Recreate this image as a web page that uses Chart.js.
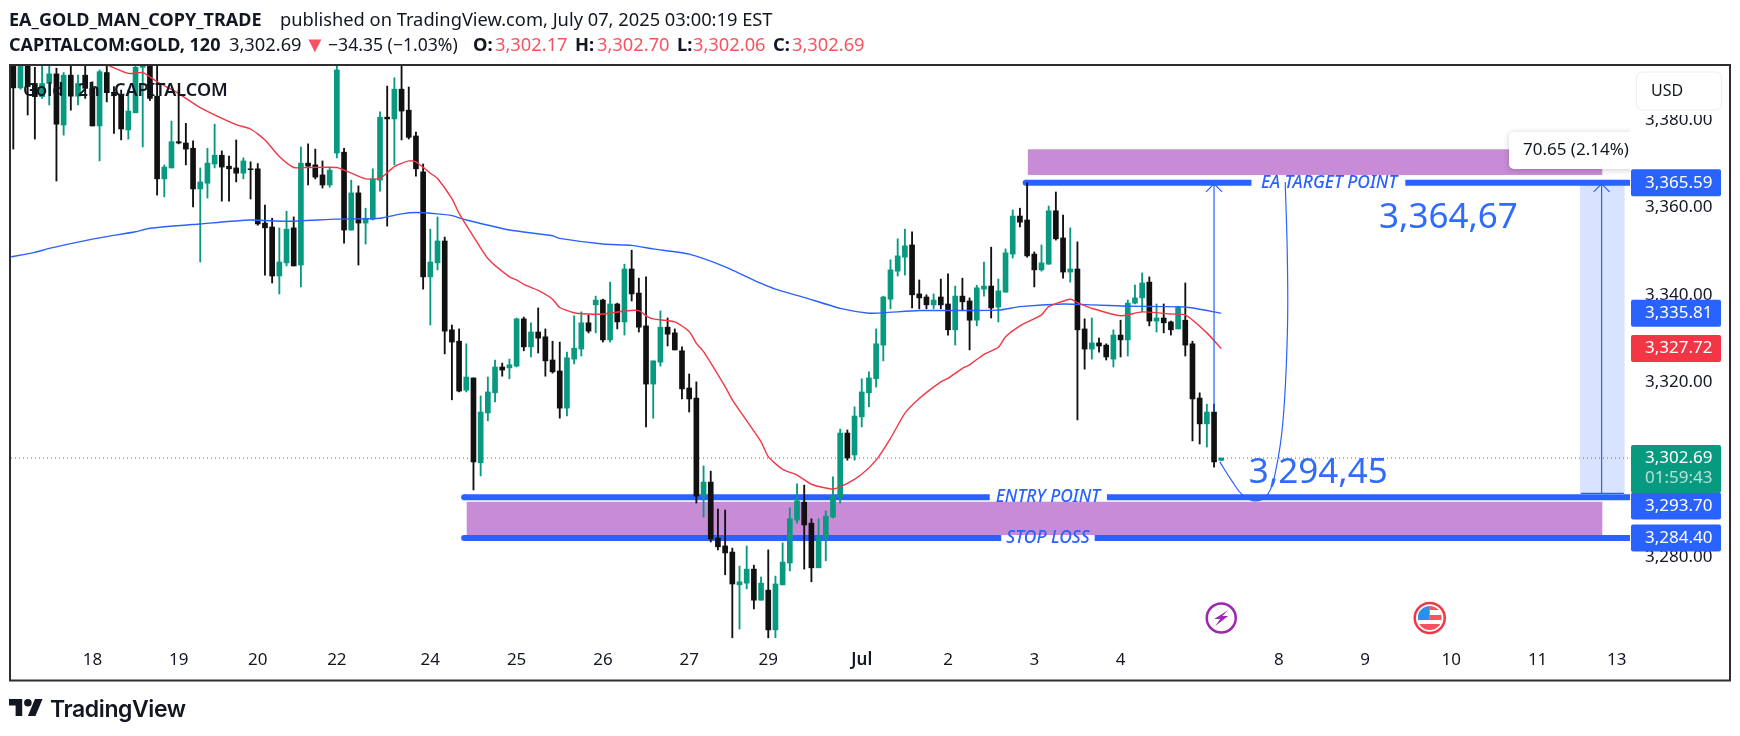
<!DOCTYPE html>
<html>
<head>
<meta charset="utf-8">
<title>Gold 2h</title>
<script src="https://cdn.jsdelivr.net/npm/chart.js@4"></script>
<style>
html, body { margin: 0; padding: 0; background: #fff; }
#wrap { position: relative; width: 1740px; height: 736px; overflow: hidden; }
canvas { position: absolute; left: 0; top: 0; }
.t { position: absolute; white-space: nowrap; font-family: "Noto Sans", sans-serif; font-size: 18.3px; line-height: 24px; color: #131722; }
.b { font-weight: 700; }
.r { color: #f7525f; }
</style>
</head>
<body>
<div id="wrap">
<canvas id="myChart" width="1740" height="736"></canvas>
<span class="t b" style="left:9px;top:7px;font-size:18px">EA_GOLD_MAN_COPY_TRADE</span>
<span class="t" style="left:280px;top:7px">published on TradingView.com, July 07, 2025 03:00:19 EST</span>
<span class="t b" style="left:9px;top:32px;font-size:18px">CAPITALCOM:GOLD, 120</span>
<span class="t" style="left:229px;top:32px">3,302.69</span>
<span class="t r" style="left:304px;top:31px;font-size:22px">▼</span>
<span class="t" style="left:328px;top:32px;font-size:17.6px">−34.35 (−1.03%)</span>
<span class="t b" style="left:473px;top:32px">O:</span><span class="t r" style="left:495px;top:32px">3,302.17</span>
<span class="t b" style="left:575px;top:32px">H:</span><span class="t r" style="left:597px;top:32px">3,302.70</span>
<span class="t b" style="left:677px;top:32px">L:</span><span class="t r" style="left:693px;top:32px">3,302.06</span>
<span class="t b" style="left:773px;top:32px">C:</span><span class="t r" style="left:792px;top:32px">3,302.69</span>
<svg style="position:absolute;left:9px;top:695px" width="34" height="25" viewBox="0 0 36 26"><path fill="#131722" d="M14 22H7V11H0V4h14v18zM28 22h-8l7.5-18h8L28 22z"/><circle fill="#131722" cx="20" cy="8" r="4"/></svg>
<span class="t" style="left:50px;top:694px;font-family:Inter,sans-serif;font-weight:600;font-size:23px;line-height:30px;letter-spacing:-0.4px">TradingView</span>
</div>
<script>
// candles, 2h bars
var openP = [3394,3387.3,3394,3388.3,3385.3,3388.3,3390.5,3378.8,3390.2,3385.4,
3390.2,3387.2,3378.6,3390.8,3386.3,3385.7,3377.7,3381.6,3392.0,3394,
3385.4,3366.5,3369.0,3375.0,3374.7,3373.5,3364.2,3365.5,3369.9,3371.9,
3369.4,3369.0,3367.8,3368.8,3368.8,3356.4,3355.5,3344.3,3347.3,3355.3,
3346.8,3370.1,3369.7,3367.4,3365.1,3372.4,3372.6,3354.8,3363.3,3356.4,
3357.3,3366.2,3380.6,3380.2,3387.0,3382.2,3376.3,3368.1,3344.1,3347.3,
3352.3,3332.0,3329.4,3318.2,3321.0,3301.6,3313.0,3317.6,3323.5,3323.3,
3323.7,3334.5,3328.1,3331.5,3330.4,3325.1,3322.6,3314.1,3325.3,3327.6,
3333.6,3337.7,3338.8,3329.7,3337.9,3333.8,3345.9,3340.4,3332.9,3319.6,
3324.6,3332.6,3331.3,3327.2,3318.7,3316.4,3294.0,3297.2,3284.4,3282.6,
3281.2,3273.7,3274.1,3277.3,3270.2,3272.5,3263.4,3273.7,3278.7,3288.5,
3292.6,3287.8,3277.6,3284.4,3289.2,3293.8,3308.4,3303.4,3312.1,3317.6,
3320.8,3328.5,3339.0,3345.4,3348.6,3351.4,3340.2,3339.5,3337.7,3339.5,
3337.9,3332.0,3339.7,3338.6,3334.2,3341.3,3342.0,3337.2,3340.6,3349.3,
3358.0,3357.1,3349.3,3345.7,3347.0,3359.2,3353.0,3345.2,3345.9,3332.2,
3327.6,3329.0,3328.5,3325.3,3330.8,3329.7,3338.1,3339.3,3342.9,3334.0,
3334.7,3333.8,3332.2,3334.2,3328.8,3316.4,3310.5,3313.2,3302.17];
var highP = [3397,3396,3396,3392,3393,3393,3391.8,3390.8,3393,3390.2,
3393,3388.7,3391.4,3393,3387.6,3386.8,3386.8,3393,3394,3396,
3393,3369.7,3379.7,3386.8,3379.2,3375.2,3369.0,3373.5,3379.0,3372.9,
3371.7,3375.4,3371.3,3370.4,3370.0,3360.5,3357.5,3355.3,3359.1,3357.8,
3373.8,3374.5,3373.3,3370.6,3369.2,3394,3373.5,3366.2,3364.9,3359.8,
3368.8,3381.8,3387.7,3389.6,3395,3387.5,3377.2,3369.9,3355.0,3357.8,
3353.2,3333.1,3332.2,3328.8,3321.0,3316.9,3321.2,3325.1,3324.4,3325.3,
3334.7,3334.9,3333.6,3337.0,3332.2,3329.4,3329.2,3326.9,3335.2,3336.1,
3335.4,3339.7,3339.0,3342.9,3338.1,3347.0,3350.2,3343.8,3344.1,3324.9,
3336.3,3334.7,3332.2,3328.1,3321.9,3320.1,3300.9,3299.7,3291.0,3290.8,
3282.1,3278.0,3282.6,3278.2,3275.5,3281.7,3275.7,3283.3,3291.3,3296.8,
3296.5,3288.8,3288.8,3290.6,3298.4,3309.3,3309.1,3314.4,3320.8,3322.4,
3332.2,3339.7,3348.0,3352.8,3355.0,3354.4,3343.4,3340.0,3340.2,3343.6,
3344.8,3342.0,3343.8,3339.3,3342.2,3347.5,3350.9,3343.6,3350.5,3359.4,
3359.8,3365.6,3349.8,3351.4,3360.3,3363.5,3358.2,3355.3,3352.1,3334.5,
3334.7,3330.1,3328.8,3332.0,3334.2,3338.8,3342.2,3345.0,3344.1,3337.9,
3337.9,3334.0,3337.4,3342.7,3329.4,3317.6,3315.0,3315.0,3302.70];
var lowP = [3373.3,3387.0,3381.1,3375.6,3384.9,3383.4,3366.0,3376.5,3382.2,3383.4,
3384.9,3378.6,3370.6,3384.1,3376.9,3375.4,3375.6,3381.6,3373.8,3384.4,
3362.8,3362.4,3369.0,3374.5,3369.7,3360.1,3347.5,3362.1,3369.0,3361.4,
3361.4,3365.8,3366.5,3361.9,3355.9,3344.5,3342.7,3340.2,3346.6,3346.6,
3341.8,3365.1,3366.5,3364.4,3364.6,3371.3,3351.8,3354.8,3346.8,3351.6,
3357.1,3363.7,3355.7,3369.7,3375.4,3375.6,3367.1,3341.3,3333.1,3345.7,
3326.5,3316.0,3317.8,3317.8,3295.4,3298.6,3311.2,3315.5,3321.4,3320.8,
3323.5,3327.2,3325.8,3326.7,3321.4,3322.1,3311.8,3312.3,3324.2,3326.0,
3331.3,3331.3,3329.2,3329.2,3332.2,3330.8,3338.6,3331.5,3309.8,3311.8,
3323.7,3328.3,3327.4,3316.2,3313.2,3292.4,3289.2,3283.5,3281.7,3276.0,
3261.6,3263.6,3272.8,3268.2,3270.2,3261.6,3261.6,3273.7,3276.9,3287.8,
3277.3,3274.4,3277.6,3279.2,3289.0,3292.4,3302.2,3302.2,3309.8,3314.4,
3318.9,3324.9,3336.8,3344.3,3344.5,3337.0,3336.8,3336.8,3336.8,3336.8,
3330.8,3328.5,3336.5,3327.4,3332.9,3339.7,3334.7,3333.8,3340.6,3348.4,
3355.5,3348.6,3341.8,3345.4,3347.0,3352.5,3343.8,3342.9,3311.4,3323.0,
3325.3,3326.9,3325.1,3323.5,3325.8,3326.0,3337.9,3336.1,3332.9,3331.5,
3331.3,3330.8,3332.2,3326.0,3306.6,3305.9,3305.2,3300.6,3302.06];
var closeP = [3387.3,3394,3387.6,3385.3,3388.3,3390.5,3379.0,3390.2,3385.4,3388.3,
3387.2,3378.6,3391.0,3386.2,3385.5,3377.9,3382.0,3392.0,3393.5,3384.9,
3366.5,3369.2,3375.0,3374.7,3373.3,3364.2,3365.8,3370.1,3371.9,3369.2,
3368.8,3367.8,3370.6,3368.6,3356.2,3355.3,3344.3,3347.5,3355.0,3346.6,
3370.1,3369.4,3366.9,3365.1,3368.5,3391.4,3354.8,3363.3,3356.4,3357.5,
3366.5,3380.6,3380.2,3387.0,3382.0,3376.0,3368.8,3344.1,3347.5,3352.3,
3331.7,3329.2,3318.0,3321.2,3301.8,3313.2,3317.8,3323.5,3322.8,3324.0,
3334.5,3328.1,3331.5,3330.1,3324.9,3322.4,3314.1,3325.6,3327.8,3333.6,
3331.7,3338.8,3329.7,3337.9,3333.8,3345.9,3340.2,3332.6,3319.6,3324.9,
3332.6,3331.0,3327.4,3318.5,3316.2,3294.0,3297.2,3284.2,3282.4,3281.0,
3273.9,3274.4,3277.3,3270.2,3274.1,3263.4,3273.9,3278.9,3288.8,3292.9,
3287.4,3277.6,3284.6,3289.4,3294.0,3308.4,3302.7,3312.3,3317.8,3321.0,
3328.8,3339.5,3345.7,3348.9,3351.2,3340.0,3339.3,3337.7,3338.8,3337.7,
3332.0,3339.7,3338.4,3334.2,3341.6,3342.0,3337.0,3340.9,3349.6,3358.0,
3356.6,3348.9,3345.7,3347.3,3359.2,3352.8,3345.2,3345.9,3332.0,3327.6,
3329.0,3328.3,3325.8,3330.8,3329.7,3338.1,3339.3,3342.7,3334.0,3334.7,
3333.6,3332.0,3337.2,3328.5,3316.2,3310.5,3313.2,3301.8,3302.69];

// the two moving averages, read at these bar numbers
var fastIdx = [10,13,16,18,20,23,26,31,33,35,37,39,41,45,47,49,51,53,55,56,58,59,61,62,64,66,69,70,71,73,75,76,78,80,82,85,87,88,89,92,94,95,96,99,100,104,105,107,109,111,114,116,118,120,122,124,126,129,130,132,133,135,137,138,140,143,144,147,148,150,154,157,161,163,166,168];
var fastVal = [3395,3392.6,3390.6,3390.8,3388.7,3386.0,3382.8,3378.9,3377.9,3375.4,3371.6,3369.1,3369.1,3369.1,3367.8,3366.5,3366.6,3369.3,3370.6,3370.4,3367.8,3366.6,3362.0,3358.6,3353.3,3348.3,3344.1,3343.4,3342.4,3341.0,3339.0,3337.1,3335.9,3335.6,3335.6,3336.3,3336.4,3335.2,3334.5,3333.8,3331.6,3328.9,3327.0,3319.0,3316.0,3306.4,3303.0,3300.1,3298.8,3296.7,3295.6,3296.9,3299.0,3302.2,3307.2,3312.9,3316.3,3320.1,3320.9,3323.2,3324.0,3326.4,3328.0,3330.4,3332.9,3335.4,3337.3,3339.0,3338.2,3336.9,3335.2,3336.1,3335.6,3335.4,3331.3,3327.7];
var slowIdx = [-0.3,3,5,10,13,17,19,26,33,38,45,51,54,56,59,61,63,65,69,75,76,82,86,89,94,99,104,106,110,115,119,121,126,129,137,140,146,150,155,163,168];
var slowVal = [3348.7,3349.7,3350.6,3352.4,3353.3,3354.4,3355.2,3356.2,3357.1,3356.8,3357.3,3357.5,3358.5,3358.8,3358.5,3358.1,3357.1,3356.3,3354.8,3353.5,3352.9,3351.6,3351.3,3350.5,3349.3,3346.4,3342.6,3341.3,3339.4,3336.9,3335.8,3335.9,3336.4,3336.4,3336.5,3337.3,3337.9,3337.7,3337.4,3337.2,3335.8];

// axes
var yTicks = [3280,3300,3320,3340,3360,3380];
var xTickIdx = [11,23,34,45,58,70,82,94,105,118,130,142,154,176,188,200,212,223];
var xTickText = ['18','19','20','22','24','25','26','27','29','Jul','2','3','4','8','9','10','11','13'];

// drawn on the chart by the author
var targetPrice = 3365.59, entryPrice = 3293.70, stopPrice = 3284.40, lastPrice = 3302.69;
var curveIdx = [167.8,169.5,171,172.8,174.4,175.6,176.6,177.2,177.2,176.9];
var curvePrice = [3301.8,3297.4,3294.2,3292.9,3294.2,3300,3311.4,3331.3,3348,3365.8];

var FONT = '"Noto Sans", sans-serif';
var BLUE = '#2962ff';

function money(v) {
    return v.toLocaleString('en-US', {minimumFractionDigits: 2, maximumFractionDigits: 2});
}
function pairs(xs, ys) {
    var out = [];
    for (var i = 0; i < xs.length; i++) out.push({x: xs[i], y: ys[i]});
    return out;
}

var wicks = [], bodies = [], barColors = [];
for (var i = 0; i < openP.length; i++) {
    wicks.push({x: i, y: [lowP[i], highP[i]]});
    bodies.push({x: i, y: [Math.min(openP[i], closeP[i]), Math.max(openP[i], closeP[i])]});
    barColors.push(closeP[i] >= openP[i] ? '#089981' : '#111111');
}

function roundBox(ctx, x, y, w, h, r, fill) {
    ctx.beginPath();
    ctx.roundRect(x, y, w, h, r);
    ctx.fillStyle = fill;
    ctx.fill();
}

var marks = {
    id: 'marks',
    // zones and levels sit under the candles
    beforeDatasetsDraw: function (chart) {
        var ctx = chart.ctx, xs = chart.scales.x, ys = chart.scales.y, a = chart.chartArea;
        var px = function (v) { return xs.getPixelForValue(v); };
        var py = function (v) { return ys.getPixelForValue(v); };
        ctx.save();
        ctx.beginPath();
        ctx.rect(a.left, a.top, a.right - a.left, a.bottom - a.top);
        ctx.clip();

        ctx.fillStyle = '#c88bd5';
        ctx.fillRect(px(141.1), py(3373.26), px(221) - px(141.1), py(3367.4) - py(3373.26));
        ctx.fillRect(px(63.06), py(3292.7), px(221) - px(63.06), py(3285.1) - py(3292.7));

        ctx.fillStyle = 'rgba(41,98,255,0.18)';
        ctx.fillRect(px(217.9), py(targetPrice), px(224.1) - px(217.9), py(3294.6) - py(targetPrice));

        ctx.strokeStyle = BLUE;
        ctx.lineWidth = 6;
        var segs = [[140.8, 172.2, targetPrice], [193.6, xs.max + 1, targetPrice],
                    [62.7, 135.8, entryPrice], [152.1, xs.max + 1, entryPrice],
                    [62.7, 137.4, stopPrice], [150.4, xs.max + 1, stopPrice]];
        segs.forEach(function (s) {
            ctx.beginPath();
            ctx.moveTo(px(s[0]), py(s[2]));
            ctx.lineTo(px(s[1]), py(s[2]));
            ctx.stroke();
        });
        // rounded left ends
        ctx.fillStyle = BLUE;
        [[140.8, targetPrice], [62.7, entryPrice], [62.7, stopPrice]].forEach(function (s) {
            ctx.beginPath();
            ctx.arc(px(s[0]), py(s[1]), 3, 0, Math.PI * 2);
            ctx.fill();
        });
        ctx.restore();
    },
    // arrows, captions
    afterDatasetsDraw: function (chart) {
        var ctx = chart.ctx, xs = chart.scales.x, ys = chart.scales.y, a = chart.chartArea;
        var px = function (v) { return xs.getPixelForValue(v); };
        var py = function (v) { return ys.getPixelForValue(v); };
        ctx.save();
        ctx.beginPath();
        ctx.rect(a.left, a.top, a.right - a.left, a.bottom - a.top);
        ctx.clip();

        ctx.strokeStyle = BLUE;
        ctx.lineWidth = 1.2;
        [[167, 3313.2], [220.9, 3294.6]].forEach(function (r) {
            var x = px(r[0]), top = py(targetPrice) + 1;
            ctx.beginPath();
            ctx.moveTo(x, py(r[1]));
            ctx.lineTo(x, top);
            ctx.moveTo(x - 8, top + 8);
            ctx.lineTo(x, top);
            ctx.lineTo(x + 8, top + 8);
            ctx.stroke();
        });
        ctx.beginPath();
        ctx.moveTo(px(218), py(3294.6));
        ctx.lineTo(px(224), py(3294.6));
        ctx.stroke();

        ctx.fillStyle = BLUE;
        ctx.textAlign = 'center';
        ctx.textBaseline = 'middle';
        ctx.font = 'italic 500 17.4px ' + FONT;
        ctx.fillText('EA TARGET POINT', px(183), py(targetPrice));
        ctx.fillText('ENTRY POINT', px(143.9), py(entryPrice));
        ctx.fillText('STOP LOSS', px(143.9), py(stopPrice));

        ctx.fillStyle = '#2f6bff';
        ctx.font = '35px ' + FONT;
        ctx.fillText('3,364,67', px(199.6), py(3357.45));
        ctx.fillText('3,294,45', px(181.5), py(3299.25));

        // measure tooltip
        ctx.save();
        ctx.shadowColor = 'rgba(0,0,0,0.2)';
        ctx.shadowBlur = 6;
        ctx.shadowOffsetY = 1;
        roundBox(ctx, 1509, 132, 140, 37, 5, '#fff');
        ctx.restore();
        ctx.fillStyle = '#131722';
        ctx.textAlign = 'left';
        ctx.font = '17px ' + FONT;
        ctx.fillText('70.65 (2.14%)', 1523, 150);
        ctx.restore();
    },
    // price tags, events and frame go over everything
    afterDraw: function (chart) {
        var ctx = chart.ctx, xs = chart.scales.x, ys = chart.scales.y;
        var py = function (v) { return ys.getPixelForValue(v); };
        ctx.save();

        // USD button
        ctx.fillStyle = '#fff';
        ctx.fillRect(1632, 68, 92, 47);
        ctx.beginPath();
        ctx.roundRect(1636.5, 72, 85, 38, 6);
        ctx.strokeStyle = '#eceef2';
        ctx.lineWidth = 1;
        ctx.stroke();
        ctx.fillStyle = '#131722';
        ctx.font = '16px ' + FONT;
        ctx.textAlign = 'left';
        ctx.textBaseline = 'middle';
        ctx.fillText('USD', 1651, 91);

        var tags = [[targetPrice, 0, BLUE], [3335.81, 0, BLUE], [3327.72, 0, '#f23645'],
                    [entryPrice, 8.6, BLUE], [stopPrice, 0, BLUE]];
        ctx.font = '17px ' + FONT;
        tags.forEach(function (t) {
            var y = py(t[0]) + t[1];
            roundBox(ctx, 1631, y - 13.5, 90, 27, 2, t[2]);
            ctx.fillStyle = '#fff';
            ctx.fillText(money(t[0]), 1645, y);
        });
        var ly = py(lastPrice);
        roundBox(ctx, 1631, ly - 13, 90, 48, 2, '#089981');
        ctx.fillStyle = '#fff';
        ctx.fillText(money(lastPrice), 1645, ly);
        ctx.fillStyle = 'rgba(255,255,255,0.7)';
        ctx.fillText('01:59:43', 1645, ly + 20.5);

        ctx.fillStyle = '#131722';
        ctx.font = '600 18px ' + FONT;
        ctx.fillText('Gold · 2h · CAPITALCOM', 23, 91);

        // events
        var ex = xs.getPixelForValue(168), ey = 618;
        ctx.beginPath();
        ctx.arc(ex, ey, 14.5, 0, Math.PI * 2);
        ctx.strokeStyle = '#9c27b0';
        ctx.lineWidth = 2.5;
        ctx.stroke();
        ctx.beginPath();
        ctx.moveTo(ex + 7, ey - 8);
        ctx.lineTo(ex - 7, ey + 1);
        ctx.lineTo(ex - 1, ey + 1);
        ctx.lineTo(ex - 6, ey + 8);
        ctx.lineTo(ex + 7, ey - 2);
        ctx.lineTo(ex + 1, ey - 2);
        ctx.closePath();
        ctx.fillStyle = '#9c27b0';
        ctx.fill();

        var fx = xs.getPixelForValue(197);
        ctx.beginPath();
        ctx.arc(fx, ey, 15, 0, Math.PI * 2);
        ctx.strokeStyle = '#f23645';
        ctx.lineWidth = 2.5;
        ctx.stroke();
        ctx.save();
        ctx.beginPath();
        ctx.arc(fx, ey, 12, 0, Math.PI * 2);
        ctx.clip();
        ctx.fillStyle = '#fff';
        ctx.fillRect(fx - 12, ey - 12, 24, 24);
        ctx.fillStyle = '#f7525f';
        ctx.fillRect(fx, ey - 12, 12, 4);
        ctx.fillRect(fx, ey - 3, 12, 5);
        ctx.fillRect(fx - 12, ey + 6, 24, 6);
        ctx.fillStyle = '#2f8fe8';
        ctx.fillRect(fx - 12, ey - 12, 12, 14);
        ctx.restore();

        // frame
        ctx.strokeStyle = '#2e2e2e';
        ctx.lineWidth = 2;
        ctx.strokeRect(10, 65, 1720, 615.5);
        ctx.restore();
    }
};

var ctx = document.getElementById('myChart').getContext('2d');
var chart = new Chart(ctx, {
    type: 'bar',
    plugins: [marks],
    data: {
        datasets: [
            {type: 'line', data: pairs(curveIdx, curvePrice), borderColor: BLUE, borderWidth: 1.2, pointRadius: 0, tension: 0.4, order: 1},
            {type: 'line', data: pairs(fastIdx, fastVal), borderColor: '#f23645', borderWidth: 1.4, pointRadius: 0, tension: 0.2, order: 2},
            {type: 'line', data: pairs(slowIdx, slowVal), borderColor: BLUE, borderWidth: 1.4, pointRadius: 0, tension: 0.2, order: 2},
            {data: bodies, backgroundColor: barColors, barThickness: 5, grouped: false, order: 3},
            {data: wicks, backgroundColor: barColors, barThickness: 1.2, grouped: false, order: 4},
            {type: 'line', data: [{x: -0.32, y: lastPrice}, {x: 224.85, y: lastPrice}], borderColor: '#089981', borderWidth: 1, borderDash: [1, 3], pointRadius: 0, order: 5}
        ]
    },
    options: {
        responsive: false,
        animation: false,
        events: [],
        layout: {padding: {left: 11, top: 66, right: 10, bottom: 56}},
        plugins: {legend: {display: false}, tooltip: {enabled: false}},
        scales: {
            x: {
                type: 'linear',
                offset: false,
                min: -0.32,
                max: 224.85,
                grid: {display: false, drawTicks: false},
                border: {display: false},
                afterBuildTicks: function (s) { s.ticks = xTickIdx.map(function (v) { return {value: v}; }); },
                afterFit: function (s) { s.height = 32; },
                ticks: {
                    autoSkip: false,
                    maxRotation: 0,
                    padding: 2,
                    color: '#131722',
                    font: function (c) {
                        var isMonth = c.tick && xTickText[xTickIdx.indexOf(c.tick.value)] === 'Jul';
                        return {family: FONT, size: 17, weight: isMonth ? '600' : '400'};
                    },
                    callback: function (v) { return xTickText[xTickIdx.indexOf(v)]; }
                }
            },
            y: {
                position: 'right',
                min: 3259.27,
                max: 3392.3,
                grid: {display: false, drawTicks: false},
                border: {display: false},
                afterBuildTicks: function (s) { s.ticks = yTicks.map(function (v) { return {value: v}; }); },
                afterFit: function (s) { s.width = 100; },
                ticks: {
                    padding: 15,
                    color: '#131722',
                    font: {family: FONT, size: 17},
                    callback: function (v) { return money(v); }
                }
            }
        }
    }
});
</script>
</body>
</html>
